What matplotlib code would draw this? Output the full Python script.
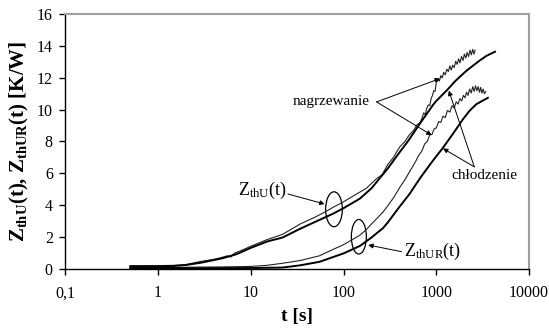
import matplotlib
matplotlib.use("Agg")
import matplotlib.pyplot as plt
from matplotlib.patches import Ellipse

plt.rcParams['font.family'] = ['Liberation Serif', 'DejaVu Serif']
plt.rcParams['mathtext.fontset'] = 'custom'
plt.rcParams['mathtext.rm'] = 'Liberation Serif'
plt.rcParams['mathtext.bf'] = 'Liberation Serif:bold'
plt.rcParams['mathtext.it'] = 'Liberation Serif:italic'

# ---- data ----
# Z_thU heating (noisy, thin)
t_u_heat = [0.5, 0.7, 1, 1.5, 2, 2.8, 3.3, 4.2, 5, 5.6, 6.1, 6.6, 8, 10, 14.7, 22, 34, 50, 65, 77,
            100, 130, 176, 226, 260, 300, 341, 403, 460, 510, 561, 620, 670,
            700, 730, 760, 790, 820, 850, 880, 910, 940, 970, 1000, 1040, 1080, 1120, 1160, 1200,
            1250, 1300, 1350, 1400, 1450, 1500, 1560, 1620, 1680, 1740, 1800, 1870, 1940, 2010,
            2080, 2150, 2230, 2310, 2390, 2470, 2550, 2620]
z_u_heat = [0.18, 0.18, 0.18, 0.2, 0.25, 0.43, 0.5, 0.6, 0.72, 0.8, 0.72, 0.95, 1.15, 1.4, 1.8, 2.15, 2.8, 3.25, 3.6, 3.85,
            4.2, 4.6, 5.05, 5.65, 5.9, 6.55, 6.95, 7.65, 8.0, 8.4, 8.65, 9.05, 9.2,
            9.45, 9.8, 9.7, 10.1, 10.3, 10.25, 10.7, 10.9, 11.2, 11.15, 11.7, 11.9, 11.8, 12.15, 12.0, 12.35,
            12.2, 12.55, 12.4, 12.75, 12.5, 12.8, 12.65, 13.05, 12.85, 13.2, 12.95, 13.35, 13.1, 13.5,
            13.25, 13.6, 13.35, 13.75, 13.45, 13.8, 13.5, 13.75]

# Z_thU cooling (smooth, thick)
t_u_cool = [0.5, 1, 1.5, 2, 3, 5, 7, 10, 15, 22, 34, 50, 77, 100, 150, 200, 300, 400, 500, 662,
            922, 1000, 1340, 1600, 2113, 2940, 3500, 4300]
z_u_cool = [0.12, 0.13, 0.16, 0.22, 0.38, 0.65, 0.9, 1.3, 1.7, 1.95, 2.5, 2.95, 3.45, 3.8, 4.4, 5.05, 6.3, 7.3, 8.05, 9.1,
            10.3, 10.55, 11.3, 11.8, 12.45, 13.1, 13.4, 13.65]

# Z_thUR heating (noisy, thin)
t_ur_heat = [0.5, 1, 2, 5, 10, 15, 22, 34, 55, 77, 100, 127, 150, 176, 200, 266, 300, 350, 403, 460, 516, 560,
             600, 650, 700, 750, 800, 850, 900, 950, 1000, 1060, 1120, 1180, 1250, 1320, 1400, 1480, 1560,
             1640, 1720, 1800, 1880, 1960, 2040, 2120, 2200, 2290, 2380, 2470, 2560, 2650, 2740, 2830,
             2920, 3010, 3100, 3200, 3300, 3400]
z_ur_heat = [0.05, 0.06, 0.08, 0.1, 0.13, 0.2, 0.33, 0.5, 0.8, 1.2, 1.5, 1.85, 2.1, 2.45, 2.8, 3.55, 3.95, 4.5, 5.1, 5.6, 6.1, 6.45,
             6.75, 7.15, 7.4, 7.85, 8.0, 8.4, 8.45, 8.8, 8.85, 9.25, 9.2, 9.6, 9.5, 9.95, 9.85, 10.25, 10.1,
             10.5, 10.35, 10.7, 10.55, 10.9, 10.75, 11.1, 10.9, 11.3, 11.05, 11.45, 11.15, 11.5, 11.2, 11.45,
             11.1, 11.4, 11.05, 11.3, 11.0, 11.15]

# Z_thUR cooling (smooth, thick)
t_ur_cool = [0.5, 2, 10, 22, 34, 55, 77, 100, 150, 200, 267, 300, 403, 516, 611, 700, 922, 1180, 1500,
             1940, 2300, 2710, 3600]
z_ur_cool = [0.02, 0.02, 0.03, 0.06, 0.2, 0.42, 0.72, 0.95, 1.42, 1.95, 2.55, 2.9, 3.9, 4.7, 5.35, 5.85, 6.8, 7.6, 8.45,
             9.4, 9.95, 10.35, 10.75]

x_ticks = [0.1, 1, 10, 100, 1000, 10000]
x_tick_labels = ['0,1', '1', '10', '100', '1000', '10000']
y_ticks = [0, 2, 4, 6, 8, 10, 12, 14, 16]

# ---- figure ----
fig = plt.figure(figsize=(5.49, 3.35), dpi=100)
ax = fig.add_axes([0.119, 0.1985, 0.8446, 0.7585])

ax.plot(t_u_heat, z_u_heat, color='#222222', lw=0.8)
ax.plot(t_u_cool, z_u_cool, color='black', lw=1.4)
ax.plot(t_ur_heat, z_ur_heat, color='#222222', lw=0.8)
ax.plot(t_ur_cool, z_ur_cool, color='black', lw=1.4)

ax.set_xscale('log')
ax.set_xlim(0.1, 10000)
ax.set_ylim(0, 16)
ax.set_xticks(x_ticks)
ax.set_xticklabels(x_tick_labels)
ax.xaxis.set_minor_locator(matplotlib.ticker.NullLocator())
ax.set_yticks(y_ticks)
ax.tick_params(direction='out', length=4, width=1, labelsize=11.5, colors='black')
ax.tick_params(axis='x', pad=8)
ax.tick_params(axis='y', pad=5)

for s in ['top', 'right']:
    ax.spines[s].set_color('#a0a0a0')
    ax.spines[s].set_linewidth(1.5)
for s in ['left', 'bottom']:
    ax.spines[s].set_color('black')
    ax.spines[s].set_linewidth(1.0)

ax.set_xlabel('t [s]', fontsize=14, fontweight='bold', labelpad=5)
ax.set_ylabel(r'Z$_{\mathbf{thU}}$(t), Z$_{\mathbf{thUR}}$(t) [K/W]', fontsize=15,
              fontweight='bold', labelpad=4)

# ---- annotations ----
arrow = dict(arrowstyle='-|>', lw=0.7, color='black', mutation_scale=7, shrinkA=0, shrinkB=0)

ax.text(10**1.87, 10.5, 'nagrzewanie', fontsize=11, ha='center', va='center')
ax.annotate('', xy=(10**3.04, 11.96), xytext=(10**2.356, 10.49), arrowprops=arrow)
ax.annotate('', xy=(10**2.95, 8.4), xytext=(10**2.356, 10.49), arrowprops=arrow)

ax.text(10**3.524, 5.88, 'chłodzenie', fontsize=11, ha='center', va='center')
ax.annotate('', xy=(10**3.135, 11.2), xytext=(10**3.41, 6.4), arrowprops=arrow)
ax.annotate('', xy=(10**3.072, 7.56), xytext=(10**3.41, 6.4), arrowprops=arrow)

ax.text(10**1.124, 4.94, r'Z$_{\mathrm{thU}}$(t)', fontsize=13, ha='center', va='center')
ax.annotate('', xy=(10**1.796, 4.06), xytext=(10**1.402, 4.69), arrowprops=arrow)

ax.text(10**2.96, 1.05, r'Z$_{\mathrm{thUR}}$(t)', fontsize=13, ha='center', va='center')
ax.annotate('', xy=(10**2.266, 1.48), xytext=(10**2.625, 1.06), arrowprops=arrow)

ax.add_patch(Ellipse(((1.897 + 1) / 5, 3.73 / 16), 0.036, 0.1375, transform=ax.transAxes,
                     fill=False, lw=0.9, color='black'))
ax.add_patch(Ellipse(((2.165 + 1) / 5, 2.0 / 16), 0.0324, 0.136, transform=ax.transAxes,
                     fill=False, lw=0.9, color='black'))

fig.savefig('out.png', dpi=100)
